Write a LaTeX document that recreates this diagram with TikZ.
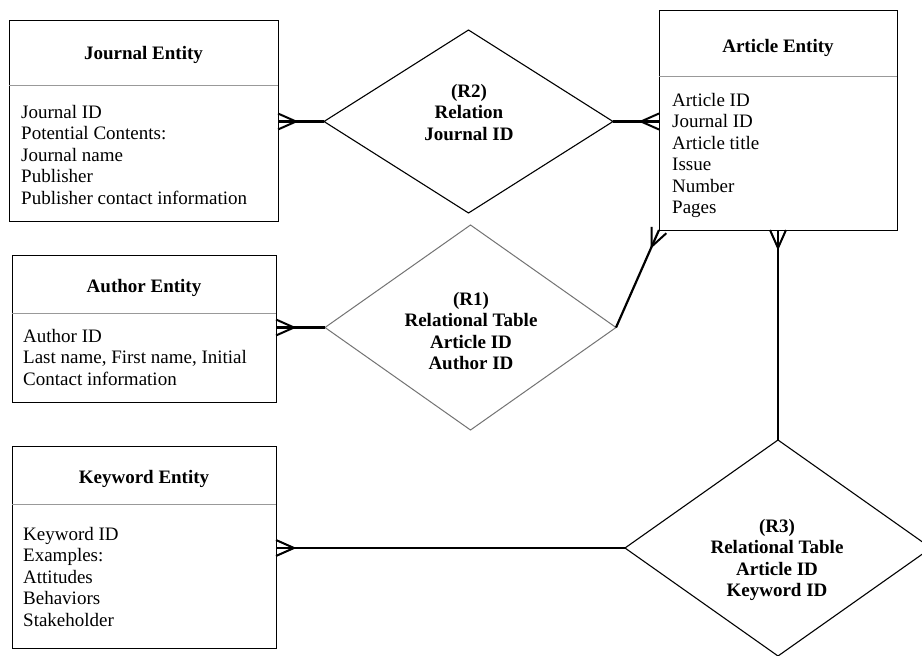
\documentclass[tikz,border=0pt]{standalone}
\usepackage{fontspec}
\setmainfont{Liberation Serif}
\usetikzlibrary{shapes.geometric,calc}
\newcommand\crowfoot[2]{\draw[foot] ($(#1)!8pt!90:(#2)$) -- ($(#1)!18pt!(#2)$) -- ($(#1)!8pt!-90:(#2)$);}
\begin{document}
\begin{tikzpicture}[x=1pt,y=-1pt,
  box/.style={draw=black,line width=1pt,inner sep=0pt,outer sep=0pt},
  divline/.style={draw=black!40,line width=1pt},
  rel/.style={draw=black,diamond,line width=1.1pt,inner sep=0pt,outer sep=0pt},
  conn/.style={line width=2.2pt},
  foot/.style={line width=2pt,line join=miter},
  ttl/.style={font=\fontsize{19}{21.5}\selectfont\bfseries,inner sep=0pt,anchor=base},
  attr/.style={font=\fontsize{19}{21.5}\selectfont,inner sep=0pt,anchor=north west,align=left},
  rtext/.style={font=\fontsize{19}{21.5}\selectfont\bfseries,inner sep=0pt,anchor=north,align=center}]
\useasboundingbox[fill=white] (0,0) rectangle (922,656);

% entity boxes
\node[box,minimum width=269pt,minimum height=201pt] (J) at (143.5,120.5) {};
\draw[divline] (9,85) -- (278,85);
\node[ttl] (Jt) at (143.5,59) {Journal Entity};
\node[attr] (Ja) at (21,105) {Journal ID\\Potential Contents:\\Journal name\\Publisher\\Publisher contact information};

\node[box,minimum width=238pt,minimum height=220pt] (A) at (778,120) {};
\draw[divline] (659,76) -- (897,76);
\node[ttl] (At) at (778,52) {Article Entity};
\node[attr] (Aa) at (672,93) {Article ID\\Journal ID\\Article title\\Issue\\Number\\Pages};

\node[box,minimum width=264pt,minimum height=147pt] (Au) at (144,328.5) {};
\draw[divline] (12,313) -- (276,313);
\node[ttl] (Aut) at (144,292) {Author Entity};
\node[attr] (Aua) at (23,329) {Author ID\\Last name, First name, Initial\\Contact information};

\node[box,minimum width=264pt,minimum height=202pt] (K) at (144,547) {};
\draw[divline] (12,504) -- (276,504);
\node[ttl] (Kt) at (144,483) {Keyword Entity};
\node[attr] (Ka) at (23,527) {Keyword ID\\Examples:\\Attitudes\\Behaviors\\Stakeholder};

% relationship diamonds
\node[rel,minimum width=289pt,minimum height=183pt] (R2) at (468.5,121.5) {};
\node[rtext] (R2t) at (469,84) {(R2)\\Relation\\Journal ID};

\node[rel,draw=black!55,line width=1pt,minimum width=291pt,minimum height=205pt] (R1) at (470.5,327.5) {};
\node[rtext] (R1t) at (471,292) {(R1)\\Relational Table\\Article ID\\Author ID};

\node[rel,minimum width=306pt,minimum height=216pt] (R3) at (778,548) {};
\node[rtext] (R3t) at (777,519) {(R3)\\Relational Table\\Article ID\\Keyword ID};

% connection points
\coordinate (Jp) at (J.east |- R2.west);
\coordinate (Ap) at (A.west |- R2.east);
\coordinate (Aup) at (Au.east |- R1.west);
\coordinate (Ab) at (A.south west);
\coordinate (As) at (A.south);
\coordinate (Kp) at (K.east |- R3.west);

% connectors
\draw[conn] (R2.west) -- (Jp);
\crowfoot{Jp}{R2.west}
\draw[conn] (R2.east) -- (Ap);
\crowfoot{Ap}{R2.east}
\draw[conn] (R1.west) -- (Aup);
\crowfoot{Aup}{R1.west}
\draw[conn] (R1.east) -- (Ab);
\crowfoot{Ab}{R1.east}
\draw[conn] (R3.north) -- (As);
\crowfoot{As}{R3.north}
\draw[conn] (R3.west) -- (Kp);
\crowfoot{Kp}{R3.west}
\end{tikzpicture}
\end{document}
